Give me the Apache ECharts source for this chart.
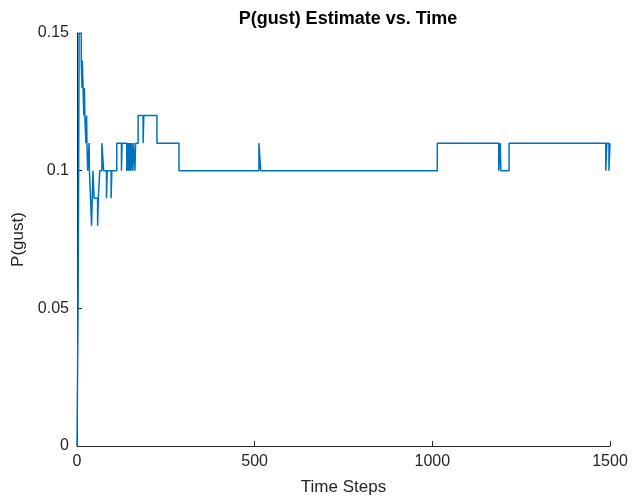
<!DOCTYPE html>
<html>
<head>
<meta charset="utf-8">
<script src="https://cdn.jsdelivr.net/npm/echarts@6/dist/echarts.min.js"></script>
<style>
  html, body { margin: 0; padding: 0; background: #fff; }
  #gust-chart { width: 635px; height: 501px; }
</style>
</head>
<body>
<div id="gust-chart"></div>
<script>
// time steps where the estimate changes, and the value held from there on
var timeSteps = [0, 3, 4, 6, 12, 14, 15, 19, 21, 22, 25, 27, 28, 30, 34, 35, 38, 41, 43, 45,
  48, 58, 60, 64, 70, 75, 83, 85, 96, 98, 112, 125, 127, 140, 142, 144, 146, 148, 150, 152,
  154, 157, 159, 163, 165, 172, 186, 188, 225, 287, 512, 517, 1014, 1187, 1191, 1193, 1216,
  1488, 1491, 1497, 1500];
var pGust = [0, 0.05, 0.08, 0.15, 0.14, 0.13, 0.14, 0.12, 0.13, 0.12, 0.11, 0.12, 0.11, 0.1,
  0.11, 0.1, 0.09, 0.08, 0.09, 0.1, 0.09, 0.08, 0.09, 0.1, 0.11, 0.1, 0.09, 0.1, 0.09, 0.1,
  0.11, 0.1, 0.11, 0.1, 0.11, 0.1, 0.11, 0.1, 0.11, 0.1, 0.11, 0.1, 0.11, 0.1, 0.11, 0.12,
  0.11, 0.12, 0.11, 0.1, 0.11, 0.1, 0.11, 0.1, 0.11, 0.1, 0.11, 0.1, 0.11, 0.1, 0.11];
var xTicks = [0, 500, 1000, 1500];
var yTicks = [0, 0.05, 0.1, 0.15];

var points = timeSteps.map(function (t, i) { return [t, pGust[i]]; });

var axisColor = "#262626";
var font = "Liberation Sans, Arial, sans-serif";

var chart = echarts.init(document.getElementById("gust-chart"), null, { renderer: "canvas" });
chart.setOption({
  animation: false,
  title: {
    text: "P(gust) Estimate vs. Time",
    left: 343,
    textAlign: "center",
    top: 5,
    textStyle: { fontFamily: font, fontSize: 18, fontWeight: "bold", color: "#000" }
  },
  grid: { left: 77, right: 25, top: 33, bottom: 46 },
  xAxis: {
    type: "value",
    min: xTicks[0],
    max: xTicks[xTicks.length - 1],
    interval: 500,
    name: "Time Steps",
    nameLocation: "middle",
    nameGap: 33,
    nameTextStyle: { fontFamily: font, fontSize: 17, color: axisColor },
    axisLine: { show: true, lineStyle: { color: axisColor, width: 1 } },
    axisTick: { show: true, inside: true, length: 5, lineStyle: { color: axisColor } },
    axisLabel: {
      fontFamily: font, fontSize: 16, color: axisColor, margin: 8,
      formatter: function (v) { return String(v); }
    },
    splitLine: { show: false }
  },
  yAxis: {
    type: "value",
    min: yTicks[0],
    max: yTicks[yTicks.length - 1],
    interval: 0.05,
    name: "P(gust)",
    nameLocation: "middle",
    nameGap: 50,
    nameTextStyle: { fontFamily: font, fontSize: 17, color: axisColor },
    axisLine: { show: true, lineStyle: { color: axisColor, width: 1 } },
    axisTick: { show: true, inside: true, length: 5, lineStyle: { color: axisColor } },
    axisLabel: {
      fontFamily: font, fontSize: 16, color: axisColor, margin: 8,
      formatter: function (v) { return String(Math.round(v * 100) / 100); }
    },
    splitLine: { show: false }
  },
  series: [{
    type: "line",
    step: "end",
    data: points,
    showSymbol: false,
    lineStyle: { color: "#0072BD", width: 1.5 }
  }]
});
</script>
</body>
</html>
